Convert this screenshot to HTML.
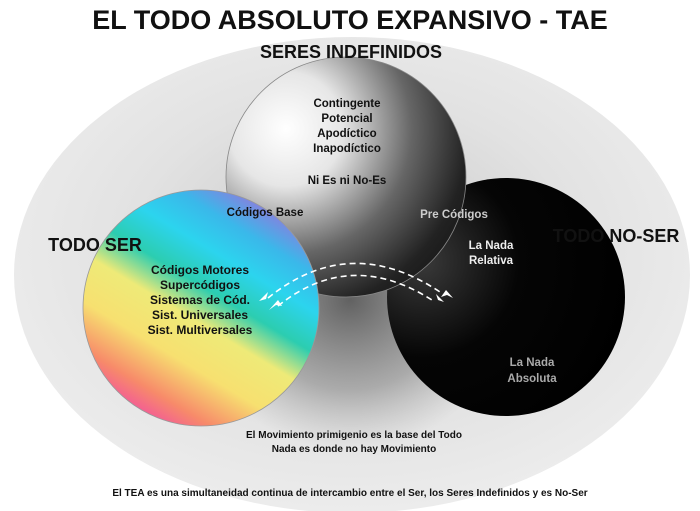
<!DOCTYPE html>
<html><head><meta charset="utf-8"><style>
body{margin:0;width:700px;height:511px;background:#fff;overflow:hidden}
svg{display:block}
text{font-family:"Liberation Sans",Arial,sans-serif;font-weight:bold}
</style></head><body>
<svg width="700" height="511" viewBox="0 0 700 511">
<defs>
<radialGradient id="bg" cx="0.5" cy="0.45" r="0.55">
<stop offset="0" stop-color="#c8c8c8"/><stop offset="0.6" stop-color="#e2e2e2"/><stop offset="1" stop-color="#ececec"/>
</radialGradient>
<radialGradient id="shadow" cx="0.5" cy="0.5" r="0.5">
<stop offset="0" stop-color="#555" stop-opacity="0.9"/><stop offset="0.6" stop-color="#777" stop-opacity="0.5"/><stop offset="1" stop-color="#999" stop-opacity="0"/>
</radialGradient>
<radialGradient id="top" cx="0.25" cy="0.3" r="0.95">
<stop offset="0" stop-color="#ffffff"/><stop offset="0.25" stop-color="#e6e6e6"/><stop offset="0.55" stop-color="#666"/><stop offset="0.8" stop-color="#222"/><stop offset="1" stop-color="#111"/>
</radialGradient>
<radialGradient id="blk" cx="0.15" cy="0.35" r="0.9">
<stop offset="0" stop-color="#3a3a3a"/><stop offset="0.45" stop-color="#050505"/><stop offset="1" stop-color="#000"/>
</radialGradient>
<linearGradient id="rb" x1="0.2" y1="1" x2="0.8" y2="0">
<stop offset="0" stop-color="#f03cb4"/><stop offset="0.15" stop-color="#f78a6a"/><stop offset="0.3" stop-color="#f7e070"/><stop offset="0.45" stop-color="#eeea78"/><stop offset="0.57" stop-color="#2ccdb0"/><stop offset="0.7" stop-color="#2cd4ee"/><stop offset="0.82" stop-color="#3ab8ea"/><stop offset="0.92" stop-color="#7a8ae0"/><stop offset="1" stop-color="#b460d8"/>
</linearGradient>
</defs>
<rect width="700" height="511" fill="#fff"/>
<ellipse cx="352" cy="275" rx="338" ry="238" fill="url(#bg)"/>
<ellipse cx="350" cy="300" rx="160" ry="150" fill="url(#shadow)"/>
<circle cx="506" cy="297" r="119" fill="url(#blk)"/>
<circle cx="346" cy="177" r="120" fill="url(#top)" stroke="#888" stroke-width="0.8"/>
<circle cx="201" cy="308" r="118" fill="url(#rb)" stroke="#999" stroke-width="0.8"/>
<g fill="none" stroke="#fff" stroke-width="1.6" stroke-dasharray="6,4">
<path d="M268 298 Q350 232 440 292"/>
<path d="M278 306 Q350 248 432 300"/>
</g>
<polygon points="259,301 268,292 266,299" fill="#fff"/>
<polygon points="269,310 278,300 282,306 276,305" fill="#fff"/>
<polygon points="444,302 436,294 438,300" fill="#fff"/>
<polygon points="453,298 446,290 441,297 447,295" fill="#fff"/>
<text x="350" y="29" font-size="27" text-anchor="middle" fill="#111">EL TODO ABSOLUTO EXPANSIVO - TAE</text>
<text x="351" y="58" font-size="18" text-anchor="middle" fill="#111">SERES INDEFINIDOS</text>
<g font-size="11.5" text-anchor="middle" fill="#111">
<text x="347" y="107">Contingente</text>
<text x="347" y="122">Potencial</text>
<text x="347" y="137">Apodíctico</text>
<text x="347" y="152">Inapodíctico</text>
<text x="347" y="184">Ni Es ni No-Es</text>
<text x="265" y="216">Códigos Base</text>
</g>
<text x="454" y="218" font-size="11.5" text-anchor="middle" fill="#ccc">Pre Códigos</text>
<text x="95" y="251" font-size="18" text-anchor="middle" fill="#111">TODO SER</text>
<text x="616" y="242" font-size="18" text-anchor="middle" fill="#111">TODO NO-SER</text>
<g font-size="12" text-anchor="middle" fill="#111">
<text x="200" y="274">Códigos Motores</text>
<text x="200" y="289">Supercódigos</text>
<text x="200" y="304">Sistemas de Cód.</text>
<text x="200" y="319">Sist. Universales</text>
<text x="200" y="334">Sist. Multiversales</text>
</g>
<g font-size="11.5" text-anchor="middle" fill="#eee">
<text x="491" y="249">La Nada</text>
<text x="491" y="264">Relativa</text>
</g>
<g font-size="11.5" text-anchor="middle" fill="#aaa">
<text x="532" y="366">La Nada</text>
<text x="532" y="382">Absoluta</text>
</g>
<g font-size="10" text-anchor="middle" fill="#111">
<text x="354" y="438">El Movimiento primigenio es la base del Todo</text>
<text x="354" y="452">Nada es donde no hay Movimiento</text>
<text x="350" y="496">El TEA es una simultaneidad continua de intercambio entre el Ser, los Seres Indefinidos y es No-Ser</text>
</g>
</svg>
</body></html>
